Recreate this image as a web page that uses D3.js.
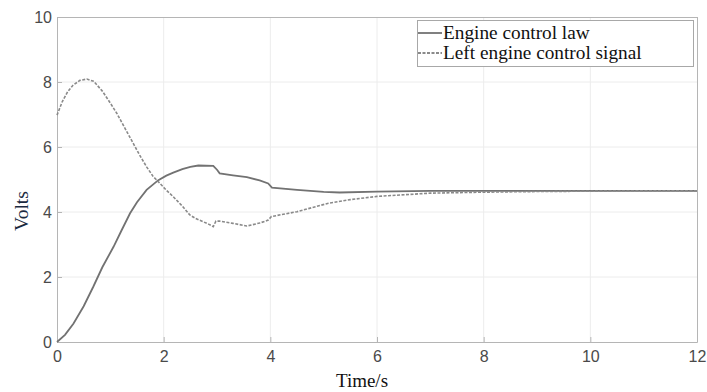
<!DOCTYPE html>
<html><head><meta charset="utf-8">
<script src="https://cdn.jsdelivr.net/npm/d3@7"></script>
<style>body{margin:0;background:#fff}svg{display:block}</style>
</head><body>
<svg id="c" width="707" height="392"></svg>
<script>
const xTicks = [0,2,4,6,8,10,12];
const yTicks = [0,2,4,6,8,10];
const lawT = [0,0.15,0.31,0.5,0.68,0.85,1.06,1.2,1.37,1.5,1.68,1.9,2.05,2.18,2.35,2.5,2.65,2.93,3.0,3.05,3.3,3.56,3.8,3.96,4.03,4.5,5.0,5.3,6,7,8,9,10,11,12];
const lawV = [0,0.22,0.57,1.1,1.7,2.3,2.93,3.4,3.96,4.3,4.68,4.98,5.12,5.21,5.32,5.39,5.43,5.42,5.3,5.19,5.13,5.07,4.97,4.88,4.75,4.68,4.62,4.6,4.63,4.65,4.65,4.65,4.65,4.65,4.65];
const sigT = [0,0.1,0.2,0.3,0.43,0.56,0.69,0.85,1.0,1.12,1.25,1.43,1.55,1.68,1.8,1.93,2.05,2.18,2.35,2.49,2.6,2.74,2.85,2.93,2.98,3.05,3.3,3.56,3.8,3.96,4.02,4.5,5.09,5.5,6,7,8,9,10,11,12];
const sigV = [6.98,7.4,7.7,7.9,8.05,8.09,8.02,7.72,7.35,7.04,6.65,6.11,5.75,5.39,5.1,4.88,4.67,4.47,4.18,3.91,3.8,3.7,3.62,3.55,3.72,3.72,3.65,3.57,3.66,3.75,3.86,4.01,4.27,4.38,4.48,4.58,4.61,4.63,4.64,4.65,4.65];
const seriesNames = ["Engine control law","Left engine control signal"];

const svg = d3.select("#c");
const L=57,R=697,T=17,B=342;
const x = d3.scaleLinear().domain([0,12]).range([L,R]);
const y = d3.scaleLinear().domain([0,10]).range([B,T]);

// grid
svg.append("g").selectAll("line").data(xTicks.slice(1,-1)).join("line")
  .attr("x1",d=>x(d)).attr("x2",d=>x(d)).attr("y1",T).attr("y2",B)
  .attr("stroke","#ececec").attr("stroke-width",1);
svg.append("g").selectAll("line").data(yTicks.slice(1,-1)).join("line")
  .attr("y1",d=>y(d)).attr("y2",d=>y(d)).attr("x1",L).attr("x2",R)
  .attr("stroke","#ececec").attr("stroke-width",1);

// axes
const xa = svg.append("g").attr("transform",`translate(0,${B})`)
  .call(d3.axisBottom(x).tickValues(xTicks).tickSize(-5).tickPadding(9));
const ya = svg.append("g").attr("transform",`translate(${L},0)`)
  .call(d3.axisLeft(y).tickValues(yTicks).tickSize(-5).tickPadding(5));
[xa,ya].forEach(a=>{
  a.select(".domain").attr("stroke","#b5b5b5");
  a.selectAll(".tick line").attr("stroke","#b5b5b5");
  a.selectAll("text").attr("font-family","Liberation Sans, Arial, sans-serif")
   .attr("font-size",16).attr("fill","#4a4a4a");
});
// top and right frame
svg.append("line").attr("x1",L).attr("x2",R).attr("y1",T+0.5).attr("y2",T+0.5).attr("stroke","#b5b5b5");
svg.append("line").attr("x1",R+0.5).attr("x2",R+0.5).attr("y1",T).attr("y2",B).attr("stroke","#b5b5b5");

const line = d3.line().x(d=>x(d[0])).y(d=>y(d[1]));
svg.append("path").datum(lawT.map((t,i)=>[t,lawV[i]]))
  .attr("d",line).attr("fill","none").attr("stroke","#727272").attr("stroke-width",1.8);
svg.append("path").datum(sigT.map((t,i)=>[t,sigV[i]]))
  .attr("d",line).attr("fill","none").attr("stroke","#8a8a8a").attr("stroke-width",1.6)
  .attr("stroke-dasharray","3,1.5");

// axis labels
svg.append("text").attr("x",362).attr("y",387).attr("text-anchor","middle")
  .attr("font-family","Liberation Serif, Times New Roman, serif").attr("font-size",19).attr("fill","#111")
  .text("Time/s");
svg.append("text").attr("transform","translate(28,211) rotate(-90)").attr("text-anchor","middle")
  .attr("font-family","Liberation Serif, Times New Roman, serif").attr("font-size",19.5).attr("fill","#1a2a40")
  .text("Volts");

// legend
const lg = svg.append("g");
lg.append("rect").attr("x",417.5).attr("y",20.5).attr("width",276).attr("height",46)
  .attr("fill","#fff").attr("stroke","#a8a8a8");
seriesNames.forEach((n,i)=>{
  const yy = 33 + i*20;
  lg.append("line").attr("x1",418).attr("x2",442).attr("y1",yy).attr("y2",yy)
    .attr("stroke",i?"#8a8a8a":"#727272").attr("stroke-width",1.8)
    .attr("stroke-dasharray",i?"3,1.5":null);
  lg.append("text").attr("x",443).attr("y",yy+6)
    .attr("font-family","Liberation Serif, Times New Roman, serif").attr("font-size",19.3).attr("fill","#111")
    .text(n);
});
</script>
</body></html>
